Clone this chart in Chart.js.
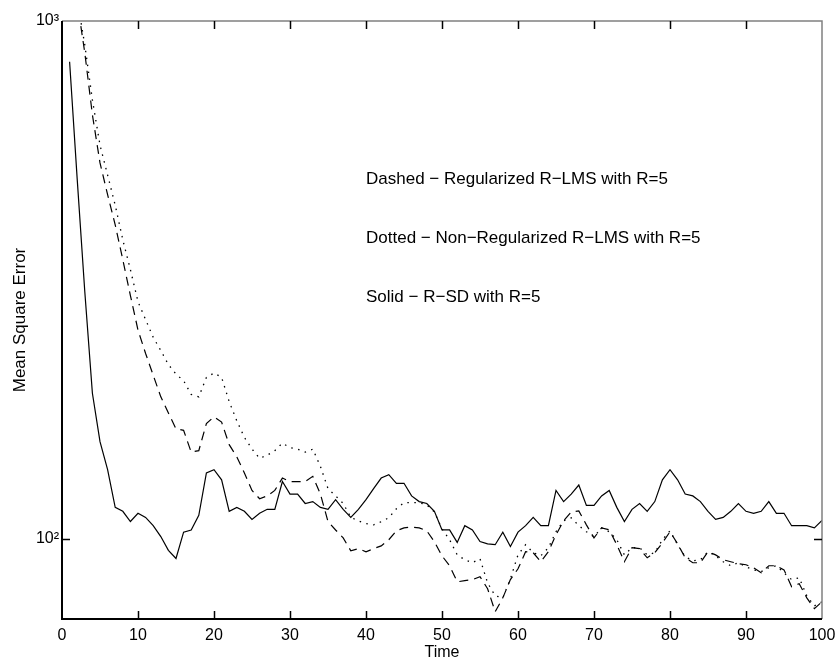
<!DOCTYPE html>
<html lang="en">
<head>
  <meta charset="UTF-8" />
  <title>Mean Square Error vs Time</title>
  <script src="https://cdn.jsdelivr.net/npm/chart.js"></script>
  <style>
    body {
      margin: 0;
      padding: 0;
      background: #fff;
    }
    .wrap {
      width: 835px;
      height: 665px;
    }
  </style>
</head>
<body>
  <div class="wrap">
    <canvas id="mseChart" width="835" height="665"></canvas>
  </div>

  <script>
    // time index 1..100
    const times = Array.from({ length: 100 }, (_, i) => i + 1);

    // Solid - R-SD with R=5
    const rsdValues = [
      834, 495, 300, 191, 154, 136, 115, 113, 108, 112,
      110, 106, 101, 95, 91.6, 103, 104, 111, 134, 136,
      130, 113, 115, 113, 109, 112, 114, 114, 129, 122,
      122, 117, 118, 115, 114, 119, 114, 110, 114, 119,
      125, 131, 133, 128, 128, 121, 118, 117, 113, 104,
      104, 98.4, 106, 104, 98.8, 97.8, 97.4, 103, 96.6, 103,
      106, 110, 106, 106, 124, 118, 122, 127, 116, 116,
      121, 124, 115, 108, 114, 117, 113, 118, 130, 136,
      130, 122, 121, 118, 113, 109, 110, 113, 117, 113,
      112, 113, 118, 112, 112, 106, 106, 106, 105, 108.5
    ];

    // Dashed - Regularized R-LMS with R=5
    const regValues = [
      1900, 1090, 868, 659, 532, 462, 404, 346, 295, 253,
      228, 207, 188, 175, 163, 162, 147, 148, 167, 172,
      168, 152, 144, 134, 124, 119.5, 121, 124, 131, 129,
      129, 129, 132, 122, 108, 104, 100.4, 94.8, 95.7, 94.4,
      95.7, 96.9, 99.6, 103.6, 105, 105.3, 105, 103.6, 98.7, 92.7,
      88.7, 82.6, 83.0, 83.4, 84.5, 80.1, 72.3, 76.9, 83.4, 87.5,
      94.4, 94.0, 90.3, 94.4, 101.8, 108.3, 112.7, 113.2, 106.4, 100.4,
      105, 104.1, 97.4, 90.3, 96.1, 95.7, 91.9, 94.0, 98.2, 103.2,
      97.8, 91.9, 89.9, 89.9, 94.4, 93.1, 91.1, 90.3, 89.5, 89.1,
      87.9, 86.0, 88.7, 88.7, 87.1, 80.8, 81.9, 76.9, 73.3, 75.6
    ];

    // Dotted - Non-Regularized R-LMS with R=5
    const nonRegValues = [
      1900, 1100, 899, 704, 576, 504, 441, 378, 331, 287,
      265, 245, 231, 217, 208, 202, 190, 188, 205, 209,
      205, 184, 169, 157, 149, 143, 145, 148, 153, 150,
      149, 147, 149, 138, 125, 121, 117, 110, 108.3, 107,
      106.4, 107.9, 109.8, 114.3, 117.4, 117.4, 117.4, 116.3, 112.7, 104.5,
      99.6, 93.1, 91.1, 89.9, 91.5, 82.2, 77.6, 76.9, 83.7, 93.1,
      97.4, 94.0, 92.7, 96.1, 103.2, 108.3, 109.8, 106, 103.2, 100.9,
      105, 103.2, 99.6, 93.1, 96.1, 96.1, 93.1, 94.0, 99.6, 103.6,
      97.4, 92.3, 90.7, 91.1, 94.4, 92.7, 90.3, 88.7, 89.9, 88.3,
      87.1, 86.4, 87.9, 88.7, 86.0, 83.4, 84.1, 77.6, 74.2, 75.6
    ];

    const xTickValues = [10, 20, 30, 40, 50, 60, 70, 80, 90];
    const yTickValues = [100, 1000];
    const yTickLabels = ['10²', '10³'];

    const notes = [
      { x: 40, y: 495, text: 'Dashed \u2212 Regularized R\u2212LMS with R=5' },
      { x: 40, y: 380, text: 'Dotted \u2212 Non\u2212Regularized R\u2212LMS with R=5' },
      { x: 40, y: 293, text: 'Solid \u2212 R\u2212SD with R=5' }
    ];

    const FONT = '"Liberation Sans", Arial, Helvetica, sans-serif';

    const toPoints = vals => times.map((t, i) => ({ x: t, y: vals[i] }));

    // frame, inward tick marks and the text notes
    const framePlugin = {
      id: 'frame',
      afterDraw(chart) {
        const { ctx, chartArea: a, scales } = chart;
        const xs = scales.x, ys = scales.y;
        ctx.save();

        ctx.lineWidth = 1.5;
        ctx.strokeStyle = '#808080';
        ctx.beginPath();
        ctx.moveTo(a.left, a.top);
        ctx.lineTo(a.right, a.top);
        ctx.lineTo(a.right, a.bottom);
        ctx.stroke();

        ctx.lineWidth = 2;
        ctx.strokeStyle = '#000';
        ctx.beginPath();
        ctx.moveTo(a.left, a.top);
        ctx.lineTo(a.left, a.bottom);
        ctx.lineTo(a.right, a.bottom);
        ctx.stroke();

        const tl = 8;
        ctx.lineWidth = 1.5;
        xTickValues.forEach(v => {
          const px = Math.round(xs.getPixelForValue(v)) + 0.5;
          ctx.strokeStyle = '#000';
          ctx.beginPath();
          ctx.moveTo(px, a.bottom);
          ctx.lineTo(px, a.bottom - tl);
          ctx.stroke();
          ctx.beginPath();
          ctx.moveTo(px, a.top);
          ctx.lineTo(px, a.top + tl);
          ctx.stroke();
        });
        const py = Math.round(ys.getPixelForValue(100)) + 0.5;
        ctx.beginPath();
        ctx.moveTo(a.left, py);
        ctx.lineTo(a.left + tl, py);
        ctx.moveTo(a.right, py);
        ctx.lineTo(a.right - tl, py);
        ctx.stroke();

        ctx.fillStyle = '#000';
        ctx.font = '17px ' + FONT;
        ctx.textAlign = 'left';
        ctx.textBaseline = 'middle';
        notes.forEach(n => {
          ctx.fillText(n.text, xs.getPixelForValue(n.x), ys.getPixelForValue(n.y));
        });
        ctx.restore();
      }
    };

    const ctx = document.getElementById('mseChart').getContext('2d');
    const chart = new Chart(ctx, {
      type: 'line',
      data: {
        datasets: [
          {
            label: 'Dashed - Regularized R-LMS with R=5',
            data: toPoints(regValues),
            borderColor: '#000',
            borderWidth: 1.2,
            borderDash: [9, 6],
            pointRadius: 0,
            tension: 0
          },
          {
            label: 'Dotted - Non-Regularized R-LMS with R=5',
            data: toPoints(nonRegValues),
            borderColor: '#000',
            borderWidth: 1.3,
            borderDash: [1.5, 5.5],
            pointRadius: 0,
            tension: 0
          },
          {
            label: 'Solid - R-SD with R=5',
            data: toPoints(rsdValues),
            borderColor: '#000',
            borderWidth: 1.2,
            pointRadius: 0,
            tension: 0
          }
        ]
      },
      options: {
        responsive: false,
        animation: false,
        layout: { padding: { top: 21, right: 13, left: 0, bottom: 0 } },
        plugins: {
          legend: { display: false },
          tooltip: { enabled: false }
        },
        scales: {
          x: {
            type: 'linear',
            min: 0,
            max: 100,
            grid: { display: false, drawTicks: false },
            border: { display: false },
            ticks: {
              stepSize: 10,
              maxRotation: 0,
              padding: 7,
              color: '#000',
              font: { family: FONT, size: 16 }
            },
            title: {
              display: true,
              text: 'Time',
              color: '#000',
              font: { family: FONT, size: 16 },
              padding: { top: 0, bottom: 3 }
            },
            afterFit(scale) {
              scale.height = 46;
              scale.paddingLeft = 0;
              scale.paddingRight = 0;
            }
          },
          y: {
            type: 'logarithmic',
            min: 70,
            max: 1000,
            grid: { display: false, drawTicks: false },
            border: { display: false },
            afterBuildTicks(scale) {
              scale.ticks = yTickValues.map(v => ({ value: v }));
            },
            ticks: {
              padding: 3,
              color: '#000',
              font: { family: FONT, size: 16 },
              callback: (value) => {
                const i = yTickValues.indexOf(value);
                return i >= 0 ? yTickLabels[i] : '';
              }
            },
            title: {
              display: true,
              text: 'Mean Square Error',
              color: '#000',
              font: { family: FONT, size: 17 },
              padding: { top: 10, bottom: 0 }
            },
            afterFit(scale) {
              scale.width = 62;
              scale.paddingTop = 0;
              scale.paddingBottom = 0;
            }
          }
        }
      },
      plugins: [framePlugin]
    });
  </script>
</body>
</html>
